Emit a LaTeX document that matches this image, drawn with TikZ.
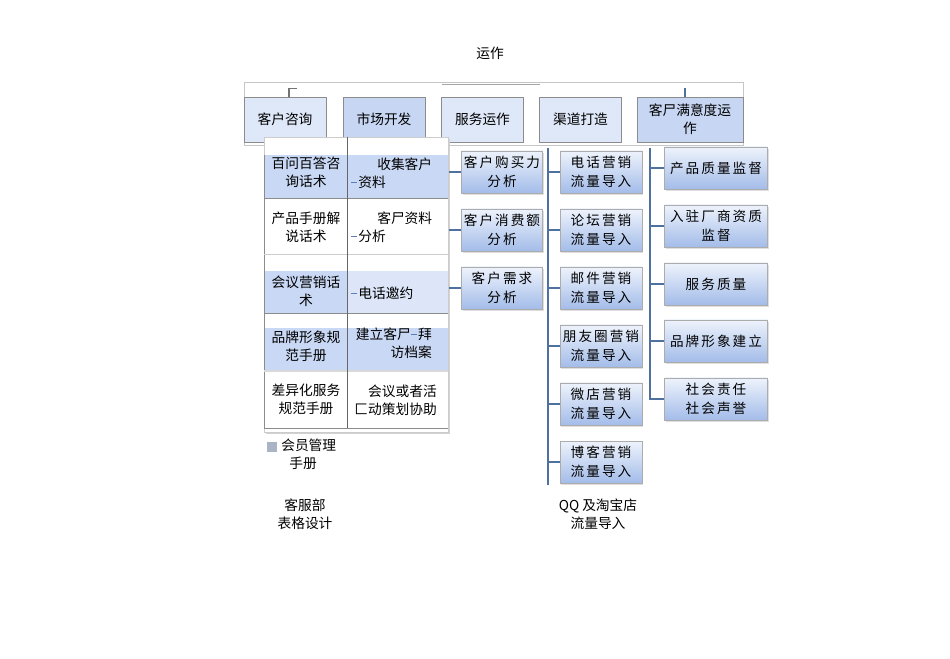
\documentclass[tikz,border=0pt]{standalone}
\usepackage{fontspec}
\setmainfont{Noto Sans CJK SC}
\newfontfamily\boxfont[LetterSpace=15]{Noto Sans CJK SC}
\usetikzlibrary{shadows}
\definecolor{boxlight}{HTML}{DFE8F8}
\definecolor{boxdark}{HTML}{C7D7F3}
\definecolor{cellblue}{HTML}{C9D8F4}
\definecolor{celllight}{HTML}{DCE6F8}
\definecolor{framegray}{HTML}{8C8C8C}
\definecolor{gradtop}{HTML}{EEF3FC}
\definecolor{gradbot}{HTML}{A3BCE9}
\definecolor{linkblue}{HTML}{4E71A0}
\definecolor{dashblue}{HTML}{5A7FB5}
\tikzset{
  topbox/.style={rectangle,draw=framegray,fill=boxlight,minimum width=61.5pt,minimum height=33.75pt,inner sep=1pt,align=center,font=\fontsize{10.3}{13.5}\selectfont},
  gradbox/.style={rectangle,draw=gray!65,top color=gradtop,bottom color=gradbot,minimum height=31.5pt,inner sep=0pt,align=center,font=\boxfont\fontsize{10.2}{14}\selectfont,drop shadow={opacity=0.25,shadow xshift=1pt,shadow yshift=-1.2pt}},
  txt/.style={inner sep=0pt,align=center,font=\fontsize{10.3}{13.5}\selectfont},
  link/.style={draw=linkblue,line width=1.5pt}
}
\newcommand{\dsh}{\textcolor{dashblue}{\rule[0.32em]{0.42em}{0.6pt}}\hspace{1pt}}
\begin{document}
\begin{tikzpicture}[x=0.75pt,y=-0.75pt]
    \useasboundingbox[fill=white] (0,0) rectangle (950,659);
    % title
    \node[txt] (title) at (490,53) {运作};
    % frame of top row
    \draw[gray!45] (244,145) -- (244,82) -- (743,82) -- (743,145) -- cycle;
    \draw[gray!70,line width=0.8pt] (442,84.5) -- (540,84.5);
    \draw[gray!90!black,line width=0.8pt] (289,97) -- (289,88.5) -- (297,88.5);
    \draw[linkblue,line width=0.8pt] (685,88) -- (685,97);
    % top row
    \node[topbox] (kfzx) at (285,119.5) {客户咨询};
    \node[topbox,fill=boxdark] (sckf) at (384,119.5) {市场开发};
    \node[topbox] (fwyz) at (482.5,119.5) {服务运作};
    \node[topbox] (qddz) at (580.5,119.5) {渠道打造};
    \node[topbox,fill=boxdark,minimum width=79.5pt,text width=66pt] (khmy) at (690,119.5) {客尸满意度运\\作};
    % table
    \fill[gray!35] (266,139) rectangle (450,434);
    \fill[white] (264,137) rectangle (448,432);
    \fill[cellblue] (264,155) rectangle (448,198);
    \fill[cellblue] (264,271) rectangle (347,313);
    \fill[celllight] (347,271) rectangle (448,313);
    \fill[cellblue] (264,328) rectangle (448,371);
    \draw[gray!40] (264,137) rectangle (448,432);
    \draw[framegray] (264,155) -- (264,428);
    \draw[framegray] (264,198) -- (448,198);
    \draw[gray!40] (264,254) -- (448,254);
    \draw[framegray] (264,313) -- (448,313);
    \draw[gray!30,line width=1pt] (264,371) -- (448,371);
    \draw[framegray] (264,428) -- (448,428);
    \draw[gray!80!black] (347,137) -- (347,428);
    % table texts
    \node[txt] (t1a) at (306,172) {百问百答咨\\询话术};
    \node[txt,anchor=west,align=left] (t1b) at (351,173) {\hspace*{19.5pt}收集客户\\\dsh 资料};
    \node[txt] (t2a) at (306,227) {产品手册解\\说话术};
    \node[txt,anchor=west,align=left] (t2b) at (351,227) {\hspace*{19.5pt}客尸资料\\\dsh 分析};
    \node[txt] (t3a) at (306,291) {会议营销话\\术};
    \node[txt,anchor=west,align=left] (t3b) at (351,293) {\dsh 电话邀约};
    \node[txt,anchor=east,align=right] (t4b) at (432,343) {建立客尸\dsh 拜\\访档案};
    \node[txt] (t4a) at (306,346) {品牌形象规\\范手册};
    \node[txt] (t5a) at (306,399) {差异化服务\\规范手册};
    \node[txt,anchor=east,align=right] (t5b) at (437,400) {会议或者活\\匚动策划协助};
    % notes under table
    \fill[gray!40!boxdark] (267,442) rectangle (277,452);
    \node[txt,anchor=north west,align=left] (hygl) at (281,439) {会员管理\\\hspace*{6pt}手册};
    \node[txt] (kfb) at (305,514) {客服部\\表格设计};
    % customer analysis
    \node[gradbox,minimum width=60.75pt] (gmnl) at (502,172) {客户购买力\\分析};
    \node[gradbox,minimum width=60.75pt] (xfe) at (502,230) {客户消费额\\分析};
    \node[gradbox,minimum width=60.75pt] (xq) at (502,288) {客户需求\\分析};
    \coordinate (c2) at (449,0);
    \foreach \b in {gmnl,xfe,xq}
      \draw[link] (c2 |- \b.west) -- (\b.west);
    % traffic
    \node[gradbox,minimum width=61.5pt] (dh) at (601,172) {电话营销\\流量导入};
    \node[gradbox,minimum width=61.5pt] (lt) at (601,230) {论坛营销\\流量导入};
    \node[gradbox,minimum width=61.5pt] (yj) at (601,288) {邮件营销\\流量导入};
    \node[gradbox,minimum width=61.5pt] (pyq) at (601,346) {朋友圈营销\\流量导入};
    \node[gradbox,minimum width=61.5pt] (wd) at (601,404) {微店营销\\流量导入};
    \node[gradbox,minimum width=61.5pt] (bk) at (601,462) {博客营销\\流量导入};
    \coordinate (t3top) at (548,148);
    \coordinate (t3bot) at (548,485);
    \draw[link] (t3top) -- (t3bot);
    \foreach \b in {dh,lt,yj,pyq,wd,bk}
      \draw[link] (t3top |- \b.west) -- (\b.west);
    \node[txt] (qq) at (598,514) {QQ 及淘宝店\\流量导入};
    % satisfaction
    \node[gradbox,minimum width=77.25pt] (zljd) at (716,168) {产品质量监督};
    \node[gradbox,minimum width=77.25pt] (rzcs) at (716,226) {入驻厂商资质\\监督};
    \node[gradbox,minimum width=77.25pt] (fwzl) at (716,284) {服务质量};
    \node[gradbox,minimum width=77.25pt] (ppxx) at (716,341) {品牌形象建立};
    \node[gradbox,minimum width=77.25pt] (shzr) at (716,399) {社会责任\\社会声誉};
    \coordinate (t4top) at (650,148);
    \draw[link] (t4top) |- (shzr.west);
    \foreach \b in {zljd,rzcs,fwzl,ppxx}
      \draw[link] (t4top |- \b.west) -- (\b.west);
  \end{tikzpicture}
\end{document}
